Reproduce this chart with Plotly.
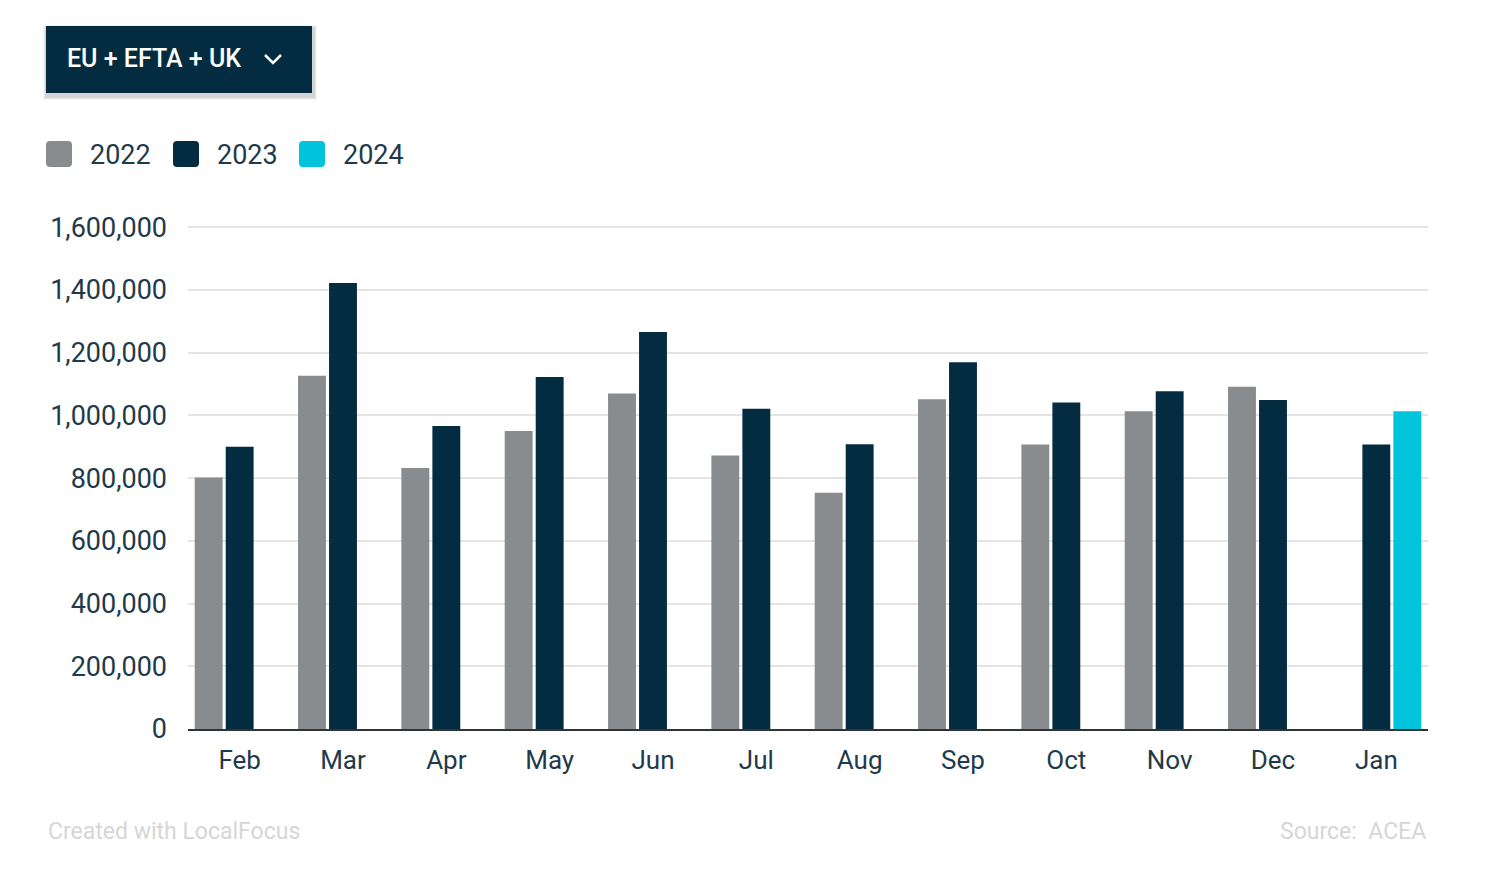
import plotly.graph_objects as go

months = ["Feb", "Mar", "Apr", "May", "Jun", "Jul", "Aug", "Sep", "Oct", "Nov", "Dec", "Jan"]
y2022 = [802000, 1126000, 832000, 950000, 1070000, 872000, 753000, 1051000, 907000, 1013000, 1091000, None]
y2023 = [900000, 1422000, 966000, 1122000, 1266000, 1021000, 908000, 1169000, 1041000, 1077000, 1049000, 907000]
y2024 = [None, None, None, None, None, None, None, None, None, None, None, 1013000]
years = ["2022", "2023", "2024"]
colors = ["#898c8e", "#042c41", "#00c3dc"]
y_ticks = [0, 200000, 400000, 600000, 800000, 1000000, 1200000, 1400000, 1600000]

TXT = "#1f3a4a"
FONT = "Roboto"

# page pixel -> paper coordinates (plot area spans x 188..1428, y 224..729 on the page)
def X(px):
    return (px - 188) / 1240

def Y(py):
    return (729 - py) / 505

fig = go.Figure()
for name, vals, col in zip(years, [y2022, y2023, y2024], colors):
    fig.add_trace(go.Bar(x=months, y=vals, name=name, marker=dict(color=col, line=dict(width=0)),
                         showlegend=False))

fig.update_layout(
    width=1492, height=863,
    margin=dict(l=180, r=72, t=216, b=142),
    paper_bgcolor="white", plot_bgcolor="white",
    barmode="group", bargap=0.1, bargroupgap=0.1,
    font=dict(family=FONT, color=TXT, size=26),
    xaxis=dict(showgrid=False, showline=True, linecolor="#2e3438", linewidth=2,
               tickfont=dict(size=26, color=TXT, family=FONT), ticks="",
               ticklabelstandoff=7, fixedrange=True),
    yaxis=dict(range=[0, 1610000], tickvals=y_ticks, tickformat=",d", showgrid=True,
               gridcolor="#e4e4e4", gridwidth=2, zeroline=False, showline=False,
               ticklabelstandoff=20, tickfont=dict(size=27, color=TXT, family=FONT)),
)

shapes = []
# dropdown button with soft shadow
for i, a in enumerate([0.04, 0.06, 0.08]):
    off = 4 - i
    shapes.append(dict(type="rect", xref="paper", yref="paper", layer="below",
                       x0=X(46 - off + 1), x1=X(312 + off + 1),
                       y0=Y(93 + off + 3), y1=Y(26 - off + 3),
                       fillcolor=f"rgba(0,0,0,{a})", line=dict(width=0)))
shapes.append(dict(type="rect", xref="paper", yref="paper",
                   x0=X(46), x1=X(312), y0=Y(93), y1=Y(26),
                   fillcolor="#042c41", line=dict(width=0)))
# chevron
shapes.append(dict(type="path", xref="paper", yref="paper",
                   path=f"M {X(265)},{Y(55)} L {X(273)},{Y(63)} L {X(281)},{Y(55)}",
                   line=dict(color="white", width=2.5)))

# legend swatches
leg_x = [46, 173, 299]
for x0, col in zip(leg_x, colors):
    x1 = x0 + 26
    y0, y1 = 141, 167
    r = 4
    path = (f"M {X(x0+r)},{Y(y0)} L {X(x1-r)},{Y(y0)} Q {X(x1)},{Y(y0)} {X(x1)},{Y(y0+r)} "
            f"L {X(x1)},{Y(y1-r)} Q {X(x1)},{Y(y1)} {X(x1-r)},{Y(y1)} L {X(x0+r)},{Y(y1)} "
            f"Q {X(x0)},{Y(y1)} {X(x0)},{Y(y1-r)} L {X(x0)},{Y(y0+r)} Q {X(x0)},{Y(y0)} {X(x0+r)},{Y(y0)} Z")
    shapes.append(dict(type="path", xref="paper", yref="paper", path=path,
                       fillcolor=col, line=dict(width=0)))
fig.update_layout(shapes=shapes)

ann = [
    dict(text="EU + EFTA + UK", x=X(65), y=Y(59), xref="paper", yref="paper",
         xanchor="left", yanchor="middle", showarrow=False,
         font=dict(family="Roboto", size=25, color="white", weight=500)),
    dict(text="Created with LocalFocus", x=X(46), y=Y(831), xref="paper", yref="paper",
         xanchor="left", yanchor="middle", showarrow=False, font=dict(size=23, color="#d6d6d6")),
    dict(text="Source:  ACEA", x=X(1428), y=Y(831), xref="paper", yref="paper",
         xanchor="right", yanchor="middle", showarrow=False, font=dict(size=23, color="#d6d6d6")),
]
for x0, name in zip(leg_x, years):
    ann.append(dict(text=name, x=X(x0 + 42), y=Y(155), xref="paper", yref="paper",
                    xanchor="left", yanchor="middle", showarrow=False, font=dict(size=27, color=TXT)))
fig.update_layout(annotations=ann)

fig.write_html("out.html")
